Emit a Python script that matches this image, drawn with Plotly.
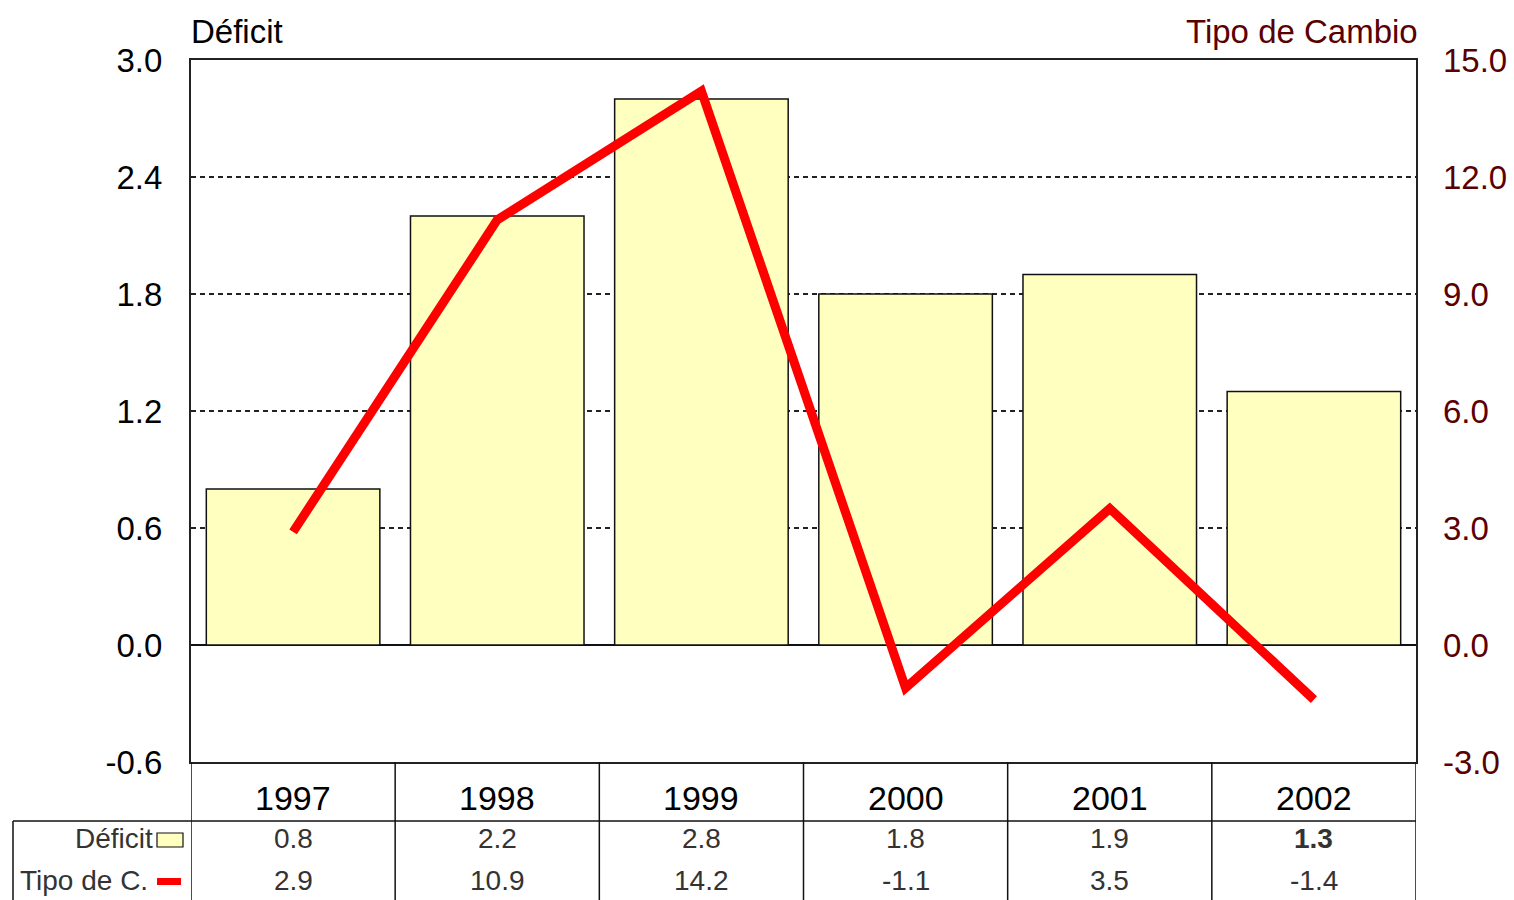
import plotly.graph_objects as go

years = ["1997", "1998", "1999", "2000", "2001", "2002"]
deficit = [0.8, 2.2, 2.8, 1.8, 1.9, 1.3]
tipo_cambio = [2.9, 10.9, 14.2, -1.1, 3.5, -1.4]
left_ticks = [-0.6, 0.0, 0.6, 1.2, 1.8, 2.4, 3.0]
right_ticks = [-3.0, 0.0, 3.0, 6.0, 9.0, 12.0, 15.0]
row_labels = ["Déficit", "Tipo de C."]

W, H = 1514, 900
L, R, T, B = 191, 98, 60, 138
PH = H - T - B
PW = W - L - R
FONT = "Liberation Sans, Arial, sans-serif"
MAROON = "#5a0000"
GRID = "#222222"


def py(p):  # pixel y -> paper y
    return (H - B - p) / PH


def px(p):  # pixel x -> paper x
    return (p - L) / PW


def fmt(v):
    return f"{v:.1f}"


xs = list(range(len(years)))

fig = go.Figure()
fig.add_trace(go.Bar(
    x=xs, y=deficit, width=0.85, name="Déficit",
    marker=dict(color="#FFFFC0", line=dict(color="#111111", width=1.5)),
    yaxis="y", showlegend=False,
))
fig.add_trace(go.Scatter(
    x=xs, y=tipo_cambio, mode="lines", name="Tipo de C.",
    line=dict(color="#FF0000", width=9), yaxis="y2", showlegend=False,
))

shapes = []
annotations = []

# table lines
n = len(years)
for i in range(n + 1):
    shapes.append(dict(type="line", xref="x", yref="paper", x0=i - 0.5, x1=i - 0.5,
                       y0=0, y1=py(H + 5), line=dict(color="#111111", width=1.5)))
shapes.append(dict(type="line", xref="paper", yref="paper", x0=px(13), x1=1,
                   y0=py(821), y1=py(821), line=dict(color="#111111", width=1.5)))
shapes.append(dict(type="line", xref="paper", yref="paper", x0=px(13), x1=px(13),
                   y0=py(821), y1=py(H + 5), line=dict(color="#111111", width=1.5)))

# legend swatches
shapes.append(dict(type="rect", xref="paper", yref="paper", x0=px(157), x1=px(183),
                   y0=py(847), y1=py(833), fillcolor="#FFFFC0",
                   line=dict(color="#111111", width=1.2)))
shapes.append(dict(type="rect", xref="paper", yref="paper", x0=px(157), x1=px(181),
                   y0=py(885), y1=py(878), fillcolor="#FF0000", line=dict(width=0)))

VAL_FONT = dict(family=FONT, size=28, color="#333")
for i, yr in enumerate(years):
    annotations.append(dict(x=i, y=py(798), xref="x", yref="paper", text=yr,
                            showarrow=False, font=dict(family=FONT, size=34, color="#000"),
                            xanchor="center", yanchor="middle"))
    dtxt = fmt(deficit[i])
    if i == n - 1:
        dtxt = f"<b>{dtxt}</b>"
    annotations.append(dict(x=i, y=py(839), xref="x", yref="paper", text=dtxt,
                            showarrow=False, font=VAL_FONT,
                            xanchor="center", yanchor="middle"))
    annotations.append(dict(x=i, y=py(880), xref="x", yref="paper", text=fmt(tipo_cambio[i]),
                            showarrow=False, font=VAL_FONT,
                            xanchor="center", yanchor="middle"))

annotations.append(dict(x=px(155), y=py(839), xref="paper", yref="paper", text=row_labels[0],
                        showarrow=False, font=VAL_FONT,
                        xanchor="right", yanchor="middle"))
annotations.append(dict(x=px(150), y=py(880), xref="paper", yref="paper", text=row_labels[1],
                        showarrow=False, font=VAL_FONT,
                        xanchor="right", yanchor="middle"))

# axis titles
annotations.append(dict(x=px(189), y=py(31), xref="paper", yref="paper", text="Déficit",
                        showarrow=False, font=dict(family=FONT, size=33, color="#000"),
                        xanchor="left", yanchor="middle"))
annotations.append(dict(x=px(1420), y=py(31), xref="paper", yref="paper", text="Tipo de Cambio",
                        showarrow=False, font=dict(family=FONT, size=33, color=MAROON),
                        xanchor="right", yanchor="middle"))

fig.update_layout(
    width=W, height=H,
    margin=dict(l=L, r=R, t=T, b=B, pad=0, autoexpand=False),
    paper_bgcolor="white", plot_bgcolor="white",
    xaxis=dict(range=[-0.5, n - 0.5], showticklabels=False, ticks="", showgrid=False,
               zeroline=False, showline=True, linecolor="#222", linewidth=2, mirror=True,
               automargin=False),
    yaxis=dict(range=[-0.6, 3.0], tickvals=left_ticks, ticktext=[fmt(v) for v in left_ticks],
               showgrid=True, gridcolor=GRID, griddash="5px,4px", gridwidth=1.5,
               zeroline=True, zerolinecolor="#111", zerolinewidth=1.5,
               showline=True, linecolor="#222", linewidth=2, mirror=True,
               ticks="", ticklabelstandoff=20, automargin=False,
               tickfont=dict(family=FONT, size=33, color="#000")),
    yaxis2=dict(range=[-3.0, 15.0], tickvals=right_ticks, ticktext=[fmt(v) for v in right_ticks],
                overlaying="y", side="right", showgrid=False, zeroline=False,
                ticks="", ticklabelstandoff=26, automargin=False,
                tickfont=dict(family=FONT, size=33, color=MAROON)),
    shapes=shapes,
    annotations=annotations,
)

fig.write_html("out.html", config={"displayModeBar": False},
               post_script="document.body.style.margin='0';document.body.style.overflow='hidden';")
